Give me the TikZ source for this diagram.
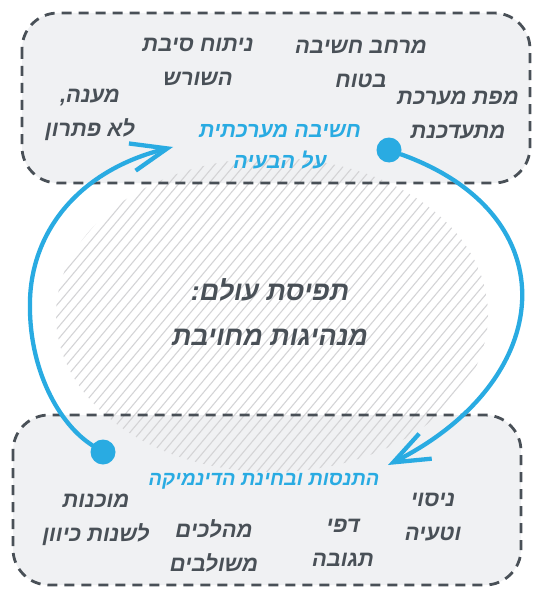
\documentclass[tikz,border=0pt]{standalone}
\usepackage{fontspec}
\setmainfont{Liberation Sans}
\newfontfamily\hebfont[Script=Hebrew]{Liberation Sans}
\TeXXeTstate=1
\usetikzlibrary{arrows.meta}
\newcommand\HebLn[1]{\beginR #1\endR}
\definecolor{ink}{RGB}{73,80,87}
\definecolor{sky}{RGB}{41,171,226}
\definecolor{boxfill}{RGB}{240,241,243}
\definecolor{hatchc}{RGB}{212,212,214}
\tikzset{
  boxfillst/.style={fill=boxfill, rounded corners=36pt},
  boxline/.style={draw=ink, line width=2.8pt, dash pattern=on 10pt off 7pt, rounded corners=36pt},
  hatchline/.style={draw=hatchc, line width=1.1pt},
  graytxt/.style={text=ink, font=\hebfont\bfseries\itshape\fontsize{22}{34}\selectfont, align=center, inner sep=0pt},
  bluetxt/.style={text=sky, font=\hebfont\bfseries\itshape\fontsize{21.5}{31}\selectfont, align=center, inner sep=0pt},
  bluesmall/.style={text=sky, font=\hebfont\bfseries\itshape\fontsize{20}{31}\selectfont, align=center, inner sep=0pt},
  centertxt/.style={text=ink, font=\hebfont\bfseries\itshape\fontsize{27}{45}\selectfont, align=center, inner sep=0pt},
  flowdot/.style={circle, fill=sky, inner sep=0pt, minimum size=25pt},
  flow/.style={draw=sky, line width=4.3pt, line cap=round, line join=round,
    -{Straight Barb[length=36pt,width=28pt]}}
}
\begin{document}
\begin{tikzpicture}[x=1pt,y=-1pt]
\useasboundingbox (0,0) rectangle (542,599);
% box fills
\path[boxfillst] (22,13) rectangle (530,183);
\path[boxfillst] (13,415) rectangle (521,585);
% hatched ellipse
\begin{scope}
  \clip (272,315) ellipse [x radius=216pt, y radius=157pt];
  \foreach \t in {-300,-290,...,520} {
    \draw[hatchline] (\t,480) -- ++(277,-330);
  }
\end{scope}
% box borders
\draw[boxline] (22,13) rectangle (530,183);
\draw[boxline] (13,415) rectangle (521,585);
% connectors
\node[flowdot] (dotL) at (103,452) {};
\node[flowdot] (dotR) at (389,150) {};
\coordinate (mL) at (30,300);
\coordinate (tipL) at (173,147);
\coordinate (tipR) at (388,465);
\draw[flow] (dotL) .. controls (60,425) and (28,370) .. (mL) .. controls (32,230) and (80,170) .. (tipL);
\draw[flow] (dotR) .. controls (570,215) and (557,380) .. (tipR);
% top box texts
\node[graytxt] (t1) at (198,62) {\HebLn{ניתוח סיבת}\\\HebLn{השורש}};
\node[graytxt] (t2) at (361,64) {\HebLn{מרחב חשיבה}\\\HebLn{בטוח}};
\node[graytxt] (t3) at (90,115) {\HebLn{מענה,}\\\HebLn{לא פתרון}};
\node[graytxt] (t4) at (458,115) {\HebLn{מפת מערכת}\\\HebLn{מתעדכנת}};
\node[bluetxt] (tb) at (280,147) {\HebLn{חשיבה מערכתית}\\\HebLn{על הבעיה}};
% center
\node[centertxt] (c) at (270,312) {\HebLn{תפיסת עולם:}\\\HebLn{מנהיגות מחויבת}};
% bottom box texts
\node[bluesmall] (bb) at (264,481) {\HebLn{התנסות ובחינת הדינמיקה}};
\node[graytxt] (b1) at (433,517) {\HebLn{ניסוי}\\\HebLn{וטעיה}};
\node[graytxt] (b2) at (343,543) {\HebLn{דפי}\\\HebLn{תגובה}};
\node[graytxt] (b3) at (214,546) {\HebLn{מהלכים}\\\HebLn{משולבים}};
\node[graytxt] (b4) at (96,520) {\HebLn{מוכנות}\\\HebLn{לשנות כיוון}};
\end{tikzpicture}
\end{document}
